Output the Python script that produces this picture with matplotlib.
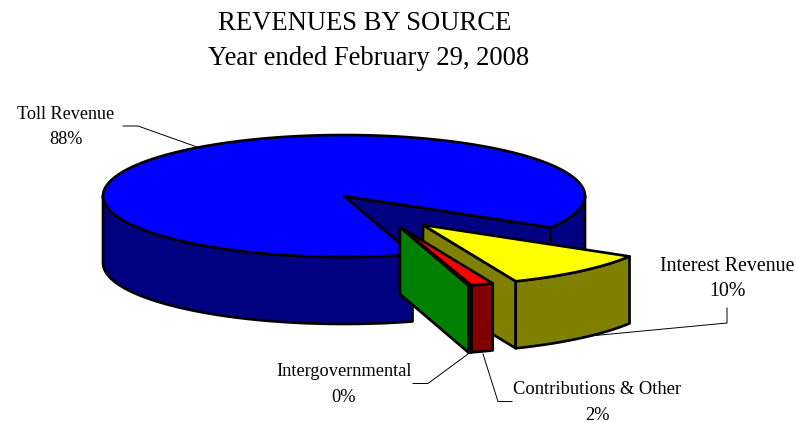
import numpy as np
import matplotlib
matplotlib.use("Agg")
import matplotlib.pyplot as plt
from matplotlib.patches import Polygon

labels = ["Toll Revenue", "Intergovernmental", "Contributions & Other", "Interest Revenue"]
pct_labels = ["88%", "0%", "2%", "10%"]
values = [88.2, 0.2, 1.5, 10.1]
top_colors = ["#0000ff", "#00ff00", "#ff0000", "#ffff00"]
side_colors = ["#000080", "#008000", "#800000", "#808000"]

# pie geometry in pixels
cx, cy = 344, 196
rx, ry = 241, 61
depth = 67
start_angle = -31
explode_frac = [0, 0.56, 0.56, 0.577]
explode_dir = [0, -65.5, -65.5, -55.4]
LW = 1.9

plt.rcParams['font.family'] = ['Liberation Serif', 'DejaVu Serif']


def ell(a, ox, oy):
    a = np.radians(a)
    return np.column_stack([ox + rx * np.cos(a), oy - ry * np.sin(a)])


def draw_wall(ax, a0, a1, ox, oy, color, z):
    # outer rim wall between two angles (only the front part is visible)
    t = np.linspace(a0, a1, 80)
    top = ell(t, ox, oy)
    bot = top[::-1] + [0, depth]
    ax.add_patch(Polygon(np.vstack([top, bot]), closed=True, fc=color, ec='black', lw=LW, joinstyle='round', zorder=z))


def draw_cut(ax, a, ox, oy, color, z):
    p = ell(np.array([a]), ox, oy)[0]
    pts = [(ox, oy), p, p + [0, depth], (ox, oy + depth)]
    ax.add_patch(Polygon(pts, closed=True, fc=color, ec='black', lw=LW, joinstyle='round', zorder=z))


def draw_top(ax, a0, a1, ox, oy, color, z):
    t = np.linspace(a0, a1, 240)
    pts = np.vstack([[(ox, oy)], ell(t, ox, oy)])
    ax.add_patch(Polygon(pts, closed=True, fc=color, ec='black', lw=LW, joinstyle='round', zorder=z))


fig = plt.figure(figsize=(7.96, 4.22), dpi=100)
ax = fig.add_axes([0, 0, 1, 1])
ax.set_xlim(0, 796)
ax.set_ylim(422, 0)
ax.axis('off')

# slice angles, counter-clockwise from the start angle
spans = np.array(values) / sum(values) * 360
edges = start_angle + np.concatenate([[0], np.cumsum(spans)])

# toll revenue: back cut face, rim, top
a0, a1 = edges[0], edges[1]
draw_cut(ax, a0, cx, cy, side_colors[0], 1)
draw_wall(ax, a0, 0, cx, cy, side_colors[0], 1)
draw_wall(ax, 180, a1, cx, cy, side_colors[0], 2)
draw_top(ax, a0, a1, cx, cy, top_colors[0], 3)

# exploded slices, drawn right to left
z = 4
for i in [3, 2, 1]:
    d = np.radians(explode_dir[i])
    ox = cx + explode_frac[i] * rx * np.cos(d)
    oy = cy - explode_frac[i] * ry * np.sin(d)
    draw_cut(ax, edges[i], ox, oy, side_colors[i], z)
    draw_wall(ax, edges[i], edges[i + 1], ox, oy, side_colors[i], z + 1)
    draw_top(ax, edges[i], edges[i + 1], ox, oy, top_colors[i], z + 2)
    z += 3

ax.text(365, 30, "REVENUES BY SOURCE", ha='center', va='baseline', fontsize=19.2, color='black')
ax.text(368.5, 65, "Year ended February 29, 2008", ha='center', va='baseline', fontsize=19.2, color='black')

# data labels with leader lines
label_pos = [(66, 119), (344, 376), (597, 394), (727, 271)]
label_sizes = [13.1, 13.2, 13.3, 14.4]
leaders = [
    [(123, 126), (138, 126), (197, 147)],
    [(468, 354), (428, 383.5), (413, 383.5)],
    [(483, 354), (498, 401.5), (512, 401.5)],
    [(727, 308), (727, 323), (590, 336)],
]
for lab, pct, (x, y), fs, line in zip(labels, pct_labels, label_pos, label_sizes, leaders):
    ax.text(x, y, lab, ha='center', va='baseline', fontsize=fs, color='black', zorder=30)
    ax.text(x, y + 25.5, pct, ha='center', va='baseline', fontsize=fs, color='black', zorder=30)
    xs, ys = zip(*line)
    ax.plot(xs, ys, color='black', lw=0.7, zorder=0.5)

fig.savefig("out.png", dpi=100)
